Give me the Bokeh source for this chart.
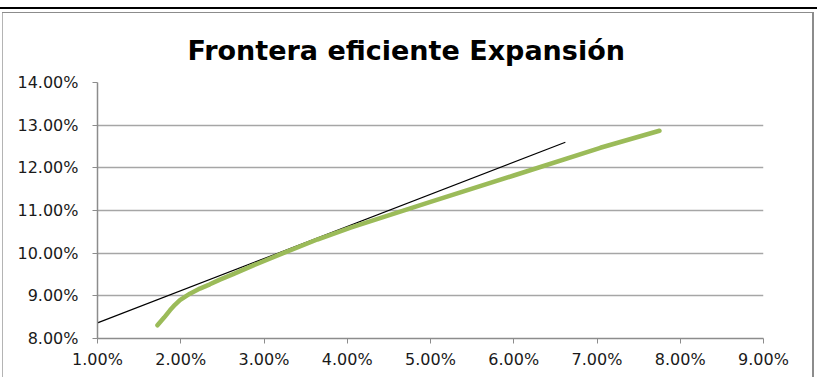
from bokeh.plotting import figure
from bokeh.models import Range1d, NumeralTickFormatter, FixedTicker
from bokeh.embed import file_html
from bokeh.resources import INLINE

title_text = "Frontera eficiente Expansión"

# Efficient frontier (risk, expected return) as fractions
frontier_risk = [0.0172, 0.0180, 0.0187, 0.0193, 0.0199, 0.0211, 0.0223, 0.0235,
                 0.0247, 0.0263, 0.0283, 0.0323, 0.0364, 0.0404, 0.0500, 0.0600,
                 0.0704, 0.0775]
frontier_return = [0.0831, 0.0849, 0.0866, 0.0879, 0.0890, 0.0905, 0.0917, 0.0927,
                   0.0938, 0.0951, 0.0968, 0.1000, 0.1032, 0.1060, 0.1120, 0.1182,
                   0.1247, 0.1287]

# Tangent (capital market) line
cml_risk = [0.0100, 0.0662]
cml_return = [0.08365, 0.1260]

x_ticks = [0.01, 0.02, 0.03, 0.04, 0.05, 0.06, 0.07, 0.08, 0.09]
y_ticks = [0.08, 0.09, 0.10, 0.11, 0.12, 0.13, 0.14]

p = figure(width=817, height=377, output_backend="svg", toolbar_location=None,
           x_range=Range1d(0.01, 0.09), y_range=Range1d(0.08, 0.14),
           min_border_left=97, min_border_right=54, min_border_top=82,
           min_border_bottom=39, title=title_text)
p.title.align = "left"
p.title.offset = 90
p.title.text_font = "DejaVu Sans"
p.title.text_font_size = "27px"
p.title.text_font_style = "bold"
p.title.text_color = "black"
p.title.standoff = 34
p.outline_line_color = None
p.background_fill_color = "white"
p.border_fill_alpha = 0

# sheet-style frame drawn behind the transparent canvas border
p.styles = {
    "background": (
        "linear-gradient(#000000, #000000) 0px 7px / 100% 2px no-repeat, "
        "linear-gradient(#8c8c8c, #8c8c8c) 2px 12px / 812px 1px no-repeat, "
        "linear-gradient(#b4b4b4, #b4b4b4) 2px 12px / 1px 100% no-repeat, "
        "linear-gradient(#8c8c8c, #8c8c8c) 812px 12px / 2px 100% no-repeat, "
        "#ffffff"
    )
}

p.xgrid.grid_line_color = None
p.ygrid.grid_line_color = "#a6a6a6"
p.ygrid.grid_line_width = 1.5
p.ygrid.ticker = FixedTicker(ticks=y_ticks)

for ax, ticks in ((p.xaxis, x_ticks), (p.yaxis, y_ticks)):
    ax.ticker = FixedTicker(ticks=ticks)
    ax.formatter = NumeralTickFormatter(format="0.00%")
    ax.axis_line_color = "#8c8c8c"
    ax.axis_line_width = 1.5
    ax.major_tick_line_color = "#8c8c8c"
    ax.major_tick_out = 5
    ax.major_tick_in = 0
    ax.minor_tick_line_color = None
    ax.major_label_text_font = "DejaVu Sans"
    ax.major_label_text_font_size = "16px"
    ax.major_label_text_color = "#1a1a1a"
p.yaxis.major_label_standoff = 14
p.xaxis.major_label_standoff = 6

p.line(cml_risk, cml_return, line_color="black", line_width=1.2)
p.line(frontier_risk, frontier_return, line_color="#9bbb59", line_width=4.5,
       line_cap="round", line_join="round")

open("out.html", "w").write(file_html(p, INLINE))
